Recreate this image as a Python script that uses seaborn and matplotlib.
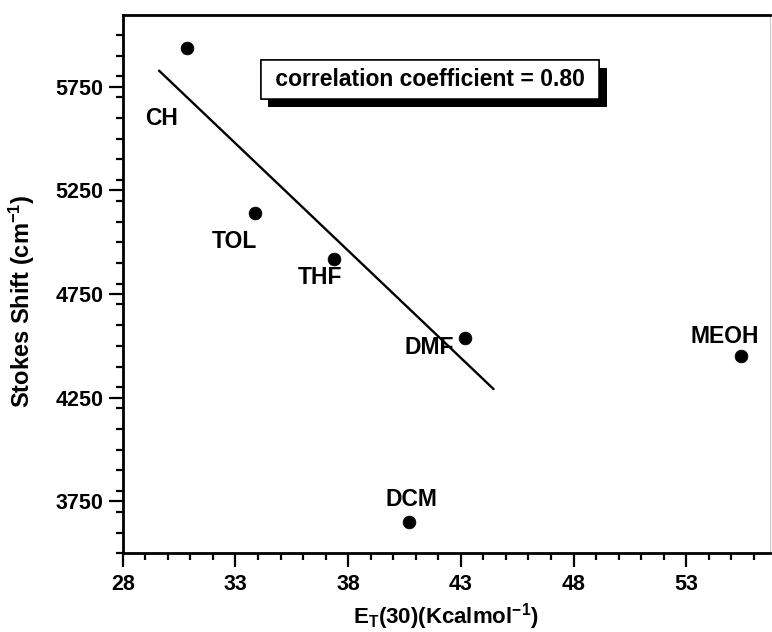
import numpy as np
import pandas as pd
import seaborn as sns
import matplotlib
matplotlib.use("Agg")
import matplotlib.pyplot as plt
from matplotlib import patheffects
from matplotlib.ticker import MultipleLocator

# ---- data ----
solvents = ["CH", "TOL", "THF", "DMF", "MEOH", "DCM"]
et30 = [30.87, 33.87, 37.35, 43.19, 55.44, 40.72]
stokes_shift = [5935, 5141, 4917, 4540, 4452, 3652]
fit_solvents = ["CH", "TOL", "THF", "DMF"]
fit_range = [29.61, 44.45]
corr_text = "correlation coefficient = 0.80"
x_ticks = [28, 33, 38, 43, 48, 53]
y_ticks = [3750, 4250, 4750, 5250, 5750]

df = pd.DataFrame({"solvent": solvents, "et30": et30, "shift": stokes_shift})
fit_df = df[df["solvent"].isin(fit_solvents)]
slope, intercept = np.polyfit(fit_df["et30"], fit_df["shift"], 1)
line_df = pd.DataFrame({"et30": fit_range,
                        "shift": [slope * x + intercept for x in fit_range]})

sns.set_theme(style="ticks")
plt.rcParams["font.family"] = ["Liberation Sans", "DejaVu Sans"]
plt.rcParams["font.weight"] = "bold"
plt.rcParams["mathtext.fontset"] = "custom"
plt.rcParams["mathtext.rm"] = "Liberation Sans:bold"
plt.rcParams["mathtext.it"] = "Liberation Sans:bold"
plt.rcParams["mathtext.bf"] = "Liberation Sans:bold"
plt.rcParams["mathtext.default"] = "rm"
for key in ["text.color", "axes.labelcolor", "xtick.color", "ytick.color",
            "axes.edgecolor"]:
    plt.rcParams[key] = "black"

fig = plt.figure(figsize=(7.72, 6.32), dpi=100)
ax = fig.add_axes([0.159, 0.1245, 0.838, 0.8515])

sns.lineplot(data=line_df, x="et30", y="shift", ax=ax, color="black",
             linewidth=1.7)
sns.scatterplot(data=df, x="et30", y="shift", ax=ax, color="black", s=85,
                edgecolor="black", linewidth=0.5, zorder=3)

offsets = {"CH": (-18.4, -50.4), "TOL": (-15.1, -20.7), "THF": (-9.8, -13.2),
           "DMF": (-25.6, -7.2), "MEOH": (-11.7, 14.2), "DCM": (1.7, 16.3)}
for _, r in df.iterrows():
    ax.annotate(r["solvent"], (r["et30"], r["shift"]),
                xytext=offsets[r["solvent"]], textcoords="offset points",
                ha="center", va="center", fontsize=16.5, fontweight="bold",
                color="black")

t = ax.text(0.4747, 0.880, " " + corr_text + " ", transform=ax.transAxes,
            ha="center", va="center", fontsize=16.5, fontweight="bold",
            color="black", zorder=5,
            bbox=dict(boxstyle="square,pad=0.35", facecolor="white",
                      edgecolor="black", linewidth=1.1))
t.get_bbox_patch().set_path_effects([
    patheffects.withSimplePatchShadow(offset=(5.5, -5.5),
                                      shadow_rgbFace="black", alpha=1.0),
    patheffects.Normal()])

ax.set_xlim(28, 56.7)
ax.set_ylim(3500, 6095)
ax.set_xticks(x_ticks)
ax.set_yticks(y_ticks)
ax.xaxis.set_minor_locator(MultipleLocator(1))
ax.yaxis.set_minor_locator(MultipleLocator(100))
ax.tick_params(axis="both", which="major", direction="out", length=10,
               width=1.6, labelsize=15.5, pad=4, color="black",
               labelcolor="black")
ax.tick_params(axis="x", which="major", pad=5)
ax.tick_params(axis="both", which="minor", direction="out", length=5,
               width=1.6, color="black")
for lab in ax.get_xticklabels() + ax.get_yticklabels():
    lab.set_fontweight("bold")

for side in ["left", "bottom", "top"]:
    ax.spines[side].set_linewidth(2.0)
    ax.spines[side].set_color("black")
ax.spines["right"].set_linewidth(0.8)
ax.spines["right"].set_color("#cccccc")

ax.set_xlabel("E$_T$(30)(Kcalmol$^{-1}$)", fontsize=16, fontweight="bold",
              labelpad=4, color="black")
ax.set_ylabel("Stokes Shift (cm$^{-1}$)", fontsize=17, fontweight="bold",
              color="black")
ax.yaxis.set_label_coords(-0.132, 0.469)

fig.savefig("out.png", dpi=100)
